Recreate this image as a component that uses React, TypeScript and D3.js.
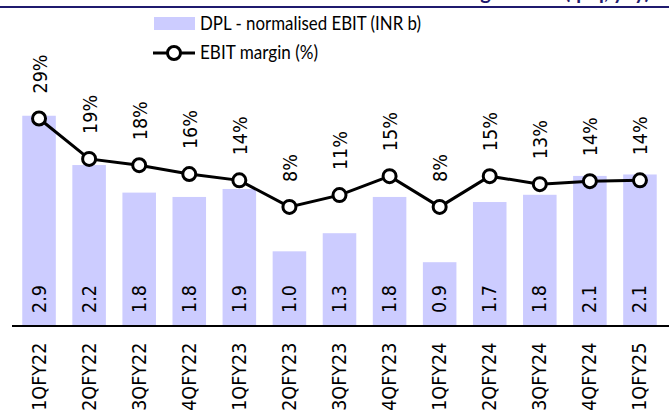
import React from "react";
import * as d3 from "d3";

const categories = ["1QFY22","2QFY22","3QFY22","4QFY22","1QFY23","2QFY23","3QFY23","4QFY23","1QFY24","2QFY24","3QFY24","4QFY24","1QFY25"];
const ebitValues = [2.9, 2.22, 1.84, 1.78, 1.89, 1.03, 1.28, 1.78, 0.88, 1.71, 1.81, 2.07, 2.09];
const marginValues = [29.0, 19.4, 17.9, 15.8, 14.3, 8.0, 10.8, 15.3, 8.0, 15.3, 13.4, 14.1, 14.3];
const legendLabels = ["DPL - normalised EBIT (INR b)", "EBIT margin (%)"];
const titleText = "Exhibit 12: DPL normalised EBIT margin trend (qoq, yoy)";

const W = 669, H = 419;
const baseY = 326, topY = 36;
const numFont = "'DejaVu Sans Condensed', 'DejaVu Sans', sans-serif";
const legFont = "Lato, 'Open Sans', sans-serif";

export default function App() {
  const x = d3.scaleBand<string>().domain(categories).range([14, 665]).paddingInner(0.33).paddingOuter(0.165);
  const yBar = d3.scaleLinear().domain([0, 4]).range([baseY, topY]);
  const yLine = d3.scaleLinear().domain([-20.3, 48.6]).range([baseY, topY]);
  const cx = (c: string) => (x(c) as number) + x.bandwidth() / 2;
  const line = d3.line<number>().x((_, i) => cx(categories[i])).y((d) => yLine(d));

  return (
    <svg width={W} height={H} style={{ position: "absolute", left: 0, top: 0, background: "#fff" }}>
      <rect width={W} height={H} fill="#fff" />
      <text x={650} y={-1} textAnchor="end" fontFamily={legFont} fontWeight="bold" fontSize={20} fill="#1f1a6e">{titleText}</text>
      <line x1={0} x2={W} y1={7} y2={7} stroke="#1f1a6e" strokeWidth={2} />

      {categories.map((c, i) => (
        <rect key={c} x={x(c)} y={yBar(ebitValues[i])} width={x.bandwidth()} height={baseY - yBar(ebitValues[i])} fill="#ccccff" />
      ))}
      <line x1={12} x2={W} y1={baseY} y2={baseY} stroke="#000" strokeWidth={2} />

      {categories.map((c, i) => (
        <text key={"b" + c} transform={`translate(${cx(c)},${313}) rotate(-90)`} textAnchor="start" dominantBaseline="central" fontFamily={numFont} fontSize={19.5} fill="#000">{ebitValues[i].toFixed(1)}</text>
      ))}

      <path d={line(marginValues) || ""} fill="none" stroke="#000" strokeWidth={3} />
      {categories.map((c, i) => (
        <circle key={"p" + c} cx={cx(c)} cy={yLine(marginValues[i])} r={6.5} fill="#fff" stroke="#000" strokeWidth={3} />
      ))}
      {categories.map((c, i) => (
        <text key={"m" + c} transform={`translate(${cx(c) + 1},${yLine(marginValues[i]) - 25}) rotate(-90)`} textAnchor="start" dominantBaseline="central" fontFamily={numFont} fontSize={19.5} fill="#000">{Math.round(marginValues[i]) + "%"}</text>
      ))}

      {categories.map((c) => (
        <text key={"x" + c} transform={`translate(${cx(c)},${342.7}) rotate(-90)`} textAnchor="end" dominantBaseline="central" fontFamily={numFont} fontSize={19.5} fill="#000">{c}</text>
      ))}

      <rect x={154} y={17} width={41} height={13} fill="#ccccff" />
      <text x={200} y={29.5} fontFamily={legFont} fontSize={19} textLength={221} lengthAdjust="spacingAndGlyphs" fill="#000">{legendLabels[0]}</text>
      <line x1={153} x2={195} y1={53} y2={53} stroke="#000" strokeWidth={3} />
      <circle cx={174} cy={53} r={6.5} fill="#fff" stroke="#000" strokeWidth={3} />
      <text x={200} y={59} fontFamily={legFont} fontSize={19} textLength={118} lengthAdjust="spacingAndGlyphs" fill="#000">{legendLabels[1]}</text>
    </svg>
  );
}
